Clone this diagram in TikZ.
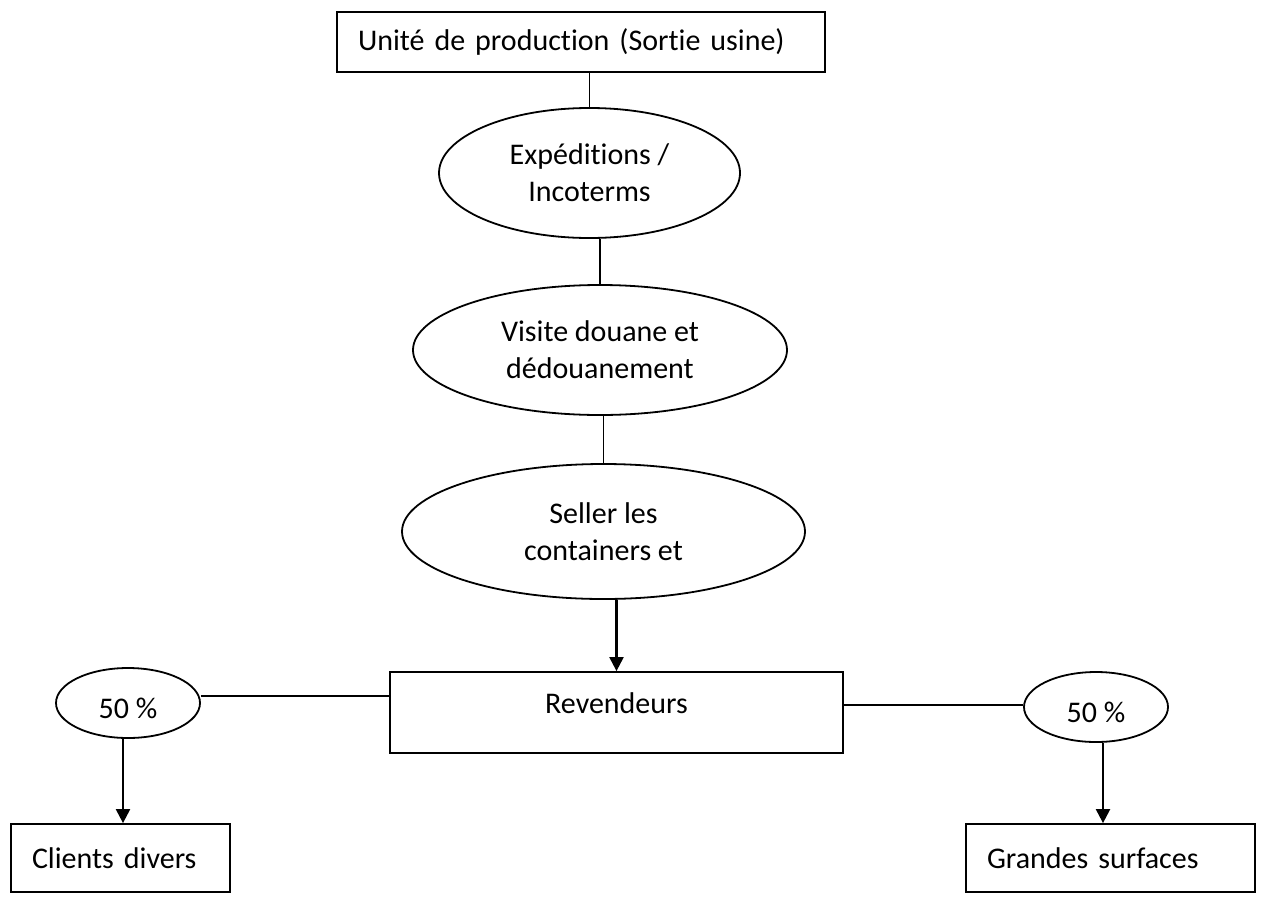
\documentclass[tikz,border=0pt]{standalone}
\usepackage{fontspec}
\setmainfont{Carlito}[Ligatures=NoCommon]
\usetikzlibrary{shapes.geometric,arrows.meta}
\begin{document}
\begin{tikzpicture}[x=1pt,y=-1pt,
  every node/.style={font=\fontsize{30}{37}\selectfont},
  boxnode/.style={draw, line width=1.8pt, rectangle, inner ysep=0pt, align=left},
  ovalnode/.style={draw, line width=1.8pt, ellipse, inner sep=0pt, align=center},
  pctnode/.style={draw, line width=1.8pt, ellipse, inner sep=0pt, text height=30pt, text depth=0pt, minimum width=144pt, minimum height=70pt},
  link/.style={line width=1.6pt},
  arr/.style={line width=2.2pt, -{Triangle[width=14pt,length=14pt]}}]
\useasboundingbox (0,0) rectangle (1263,900);
\node[boxnode, inner xsep=21pt, text width=446pt, minimum height=60pt] (top) at (581,42) {Unité de production (Sortie usine)};
\node[ovalnode, minimum width=301pt, minimum height=130pt] (e1) at (589.5,173) {\raisebox{-4pt}{Expéditions /}\\\raisebox{-4pt}{Incoterms}};
\node[ovalnode, minimum width=374pt, minimum height=130pt] (e2) at (600,350) {\raisebox{-3pt}{Visite douane et}\\\raisebox{-3pt}{dédouanement}};
\node[ovalnode, minimum width=403pt, minimum height=135pt] (e3) at (603.5,531.5) {Seller les\\containers et};
\node[draw, line width=1.8pt, rectangle, inner sep=0pt, minimum width=453pt, minimum height=81pt, text height=22pt, text depth=21pt] (rev) at (616.5,712.5) {Revendeurs};
\node[pctnode] (l50) at (128,703) {50 \%};
\node[pctnode] (r50) at (1096,707) {50 \%};
\node[boxnode, inner xsep=21pt, text width=177pt, minimum height=68pt] (cd) at (120.5,858) {Clients divers};
\node[boxnode, inner xsep=21pt, text width=247pt, minimum height=68pt] (gs) at (1110.5,858) {Grandes surfaces};
\draw[link] (e1.north |- top.south) -- (e1.north);
\draw[link] (e2.north |- e1.south) -- (e2.north);
\draw[link] (e3.north |- e2.south) -- (e3.north);
\draw[arr] (e3.south -| rev.north) -- (rev.north);
\coordinate (la) at ([yshift=7pt]l50.east);
\draw[link] (la) -- (la -| rev.west);
\coordinate (ra) at ([yshift=2pt]r50.west);
\draw[link] (ra -| rev.east) -- (ra);
\coordinate (lb) at ([xshift=-5pt]l50.south);
\draw[arr] (lb) -- (lb |- cd.north);
\coordinate (rb) at ([xshift=7pt]r50.south);
\draw[arr] (rb) -- (rb |- gs.north);
\end{tikzpicture}
\end{document}
